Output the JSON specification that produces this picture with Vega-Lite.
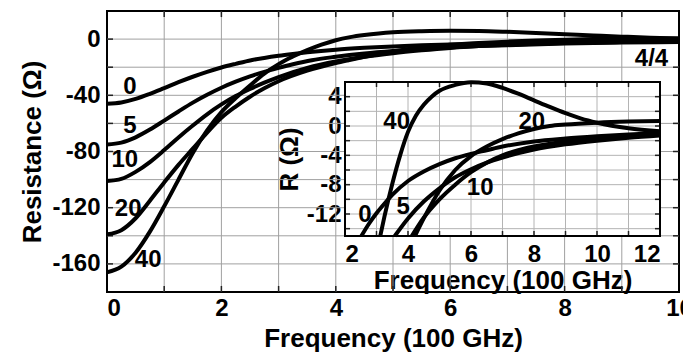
{
  "$schema": "https://vega.github.io/schema/vega-lite/v6.json",
  "width": 572,
  "height": 281,
  "autosize": "none",
  "padding": {"left": 107, "top": 11, "right": 4, "bottom": 66},
  "background": "white",
  "config": {
    "view": {"stroke": "black", "strokeWidth": 2},
    "font": "Liberation Sans",
    "axis": {
      "labelFont": "Liberation Sans", "labelFontWeight": "bold", "labelFontSize": 24, "labelColor": "black",
      "titleFont": "Liberation Sans", "titleFontWeight": "bold", "titleFontSize": 26, "titleColor": "black",
      "ticks": false, "domain": false, "labelOverlap": false, "format": "d", "grid": false
    },
    "text": {"font": "Liberation Sans", "fontWeight": "bold", "fontSize": 24, "color": "black"}
  },
  "datasets": {
    "curves": [
      {"c":"0","x":0,"y":-46},{"c":"0","x":0.25,"y":-45.1},{"c":"0","x":0.5,"y":-42.6},{"c":"0","x":0.75,"y":-39.0},{"c":"0","x":1,"y":-34.9},{"c":"0","x":1.25,"y":-30.7},{"c":"0","x":1.5,"y":-26.8},{"c":"0","x":1.75,"y":-23.3},{"c":"0","x":2,"y":-20.2},{"c":"0","x":2.25,"y":-17.6},{"c":"0","x":2.52,"y":-15.0},{"c":"0","x":2.75,"y":-13.4},{"c":"0","x":3,"y":-11.9},{"c":"0","x":3.25,"y":-10.6},{"c":"0","x":3.5,"y":-9.4},{"c":"0","x":4,"y":-7.5},{"c":"0","x":4.5,"y":-6.2},{"c":"0","x":5,"y":-5.2},{"c":"0","x":5.5,"y":-4.4},{"c":"0","x":6,"y":-3.8},{"c":"0","x":6.5,"y":-3.3},{"c":"0","x":7,"y":-2.8},{"c":"0","x":8,"y":-2.1},{"c":"0","x":9,"y":-1.7},{"c":"0","x":10,"y":-1.4},{"c":"0","x":11,"y":-1.15},{"c":"0","x":12,"y":-0.95},
      {"c":"5","x":0,"y":-75},{"c":"5","x":0.25,"y":-73.7},{"c":"5","x":0.5,"y":-69.9},{"c":"5","x":0.75,"y":-64.4},{"c":"5","x":1,"y":-58.0},{"c":"5","x":1.25,"y":-51.5},{"c":"5","x":1.5,"y":-45.2},{"c":"5","x":1.75,"y":-39.6},{"c":"5","x":2,"y":-34.6},{"c":"5","x":2.25,"y":-30.3},{"c":"5","x":2.5,"y":-26.5},{"c":"5","x":2.75,"y":-23.3},{"c":"5","x":3,"y":-20.5},{"c":"5","x":3.25,"y":-17.9},{"c":"5","x":3.58,"y":-15.0},{"c":"5","x":4,"y":-12.6},{"c":"5","x":4.5,"y":-10.3},{"c":"5","x":5,"y":-8.5},{"c":"5","x":5.5,"y":-7.0},{"c":"5","x":6,"y":-5.9},{"c":"5","x":6.5,"y":-5.0},{"c":"5","x":7,"y":-4.3},{"c":"5","x":8,"y":-3.2},{"c":"5","x":9,"y":-2.5},{"c":"5","x":10,"y":-2.0},{"c":"5","x":11,"y":-1.6},{"c":"5","x":12,"y":-1.3},
      {"c":"10","x":0,"y":-101},{"c":"10","x":0.25,"y":-99.5},{"c":"10","x":0.5,"y":-94.5},{"c":"10","x":0.75,"y":-87.5},{"c":"10","x":1,"y":-79},{"c":"10","x":1.25,"y":-70},{"c":"10","x":1.5,"y":-61.5},{"c":"10","x":1.75,"y":-53.5},{"c":"10","x":2,"y":-46.5},{"c":"10","x":2.25,"y":-40.5},{"c":"10","x":2.5,"y":-35.5},{"c":"10","x":2.75,"y":-31},{"c":"10","x":3,"y":-27},{"c":"10","x":3.5,"y":-20.5},{"c":"10","x":4,"y":-15.9},{"c":"10","x":4.12,"y":-15.0},{"c":"10","x":4.5,"y":-12.5},{"c":"10","x":5,"y":-10.0},{"c":"10","x":5.5,"y":-8.0},{"c":"10","x":6,"y":-6.3},{"c":"10","x":6.5,"y":-5.0},{"c":"10","x":7,"y":-4.0},{"c":"10","x":7.5,"y":-3.3},{"c":"10","x":8,"y":-2.8},{"c":"10","x":9,"y":-2.1},{"c":"10","x":10,"y":-1.7},{"c":"10","x":11,"y":-1.4},{"c":"10","x":12,"y":-1.2},
      {"c":"20","x":0,"y":-139},{"c":"20","x":0.25,"y":-136},{"c":"20","x":0.5,"y":-127.5},{"c":"20","x":0.75,"y":-115},{"c":"20","x":1,"y":-102},{"c":"20","x":1.25,"y":-89.5},{"c":"20","x":1.5,"y":-78},{"c":"20","x":1.75,"y":-66.5},{"c":"20","x":2,"y":-56},{"c":"20","x":2.25,"y":-48},{"c":"20","x":2.5,"y":-41},{"c":"20","x":2.75,"y":-35},{"c":"20","x":3,"y":-30},{"c":"20","x":3.5,"y":-22.5},{"c":"20","x":4,"y":-17},{"c":"20","x":4.22,"y":-15.0},{"c":"20","x":4.5,"y":-12.6},{"c":"20","x":5,"y":-8.8},{"c":"20","x":5.5,"y":-6.0},{"c":"20","x":6,"y":-4.1},{"c":"20","x":6.5,"y":-2.8},{"c":"20","x":7,"y":-1.8},{"c":"20","x":7.5,"y":-1.0},{"c":"20","x":8,"y":-0.4},{"c":"20","x":8.5,"y":0.0},{"c":"20","x":9,"y":0.2},{"c":"20","x":10,"y":0.45},{"c":"20","x":11,"y":0.6},{"c":"20","x":12,"y":0.68},
      {"c":"40","x":0,"y":-166},{"c":"40","x":0.25,"y":-162},{"c":"40","x":0.5,"y":-152},{"c":"40","x":0.75,"y":-137},{"c":"40","x":1,"y":-119},{"c":"40","x":1.25,"y":-100},{"c":"40","x":1.5,"y":-81},{"c":"40","x":1.75,"y":-65},{"c":"40","x":2,"y":-52},{"c":"40","x":2.25,"y":-42},{"c":"40","x":2.5,"y":-33},{"c":"40","x":2.75,"y":-24.5},{"c":"40","x":3,"y":-17.8},{"c":"40","x":3.12,"y":-15.0},{"c":"40","x":3.25,"y":-12.4},{"c":"40","x":3.5,"y":-7.9},{"c":"40","x":3.75,"y":-4.0},{"c":"40","x":4,"y":-0.8},{"c":"40","x":4.25,"y":1.4},{"c":"40","x":4.5,"y":2.9},{"c":"40","x":4.75,"y":4.0},{"c":"40","x":5,"y":4.8},{"c":"40","x":5.5,"y":5.6},{"c":"40","x":6,"y":5.95},{"c":"40","x":6.5,"y":5.8},{"c":"40","x":7,"y":5.2},{"c":"40","x":7.5,"y":4.4},{"c":"40","x":8,"y":3.5},{"c":"40","x":8.5,"y":2.6},{"c":"40","x":9,"y":1.75},{"c":"40","x":9.5,"y":1.0},{"c":"40","x":10,"y":0.45},{"c":"40","x":11,"y":-0.3},{"c":"40","x":12,"y":-0.7}
    ],
    "mainLabels": [
      {"t":"0","x":0.40,"y":-34},{"t":"5","x":0.40,"y":-62},{"t":"10","x":0.31,"y":-86.3},{"t":"20","x":0.37,"y":-120.7},{"t":"40","x":0.72,"y":-157.4},{"t":"4/4","x":9.52,"y":-13.9}
    ],
    "insetLabels": [
      {"t":"40","x":3.64,"y":0.58},{"t":"0","x":2.63,"y":-12.2},{"t":"5","x":3.85,"y":-11.0},{"t":"10","x":6.29,"y":-8.5},{"t":"20","x":7.93,"y":0.58}
    ],
    "mainGridV": [{"v":1},{"v":2},{"v":3},{"v":4},{"v":5},{"v":6},{"v":7},{"v":8},{"v":9}],
    "mainGridH": [{"v":-160},{"v":-140},{"v":-120},{"v":-100},{"v":-80},{"v":-60},{"v":-40},{"v":-20},{"v":0}],
    "gridV": [{"v":3},{"v":4},{"v":5},{"v":6},{"v":7},{"v":8},{"v":9},{"v":10},{"v":11}],
    "gridH": [{"v":-14},{"v":-12},{"v":-10},{"v":-8},{"v":-6},{"v":-4},{"v":-2},{"v":0},{"v":2},{"v":4}]
  },
  "layer": [
    {
      "resolve": {"scale": {"x": "shared", "y": "shared"}, "axis": {"x": "shared", "y": "shared"}},
      "layer": [
        {
          "data": {"name": "mainGridV"},
          "mark": {"type": "rule", "color": "#a0a0a0", "strokeWidth": 1},
          "encoding": {
            "x": {"field": "v", "type": "quantitative", "title": "Frequency (100 GHz)",
              "scale": {"domain": [0, 10], "nice": false, "zero": false},
              "axis": {"values": [0,2,4,6,8,10], "labelFlush": false,
                "labelAlign": {"condition": {"test": "datum.value == 0", "value": "left"}, "value": "center"},
                "labelPadding": 4, "titlePadding": 5}},
            "y": {"datum": -180, "type": "quantitative", "title": "Resistance (Ω)",
              "scale": {"domain": [-180, 20], "nice": false, "zero": false},
              "axis": {"values": [-160,-120,-80,-40,0],
                "labelExpr": "replace(datum.label, '−', '-')",
                "labelPadding": 7, "titlePadding": 6}},
            "y2": {"datum": 20}
          }
        },
        {
          "data": {"name": "mainGridH"},
          "mark": {"type": "rule", "color": "#a0a0a0", "strokeWidth": 1},
          "encoding": {
            "y": {"field": "v", "type": "quantitative", "title": "Resistance (Ω)"},
            "x": {"datum": 0, "type": "quantitative", "title": "Frequency (100 GHz)"},
            "x2": {"datum": 10}
          }
        },
        {
          "data": {"name": "mainGridH"},
          "mark": {"type": "rule", "color": "#222222", "strokeWidth": 1.5},
          "encoding": {
            "y": {"field": "v", "type": "quantitative", "title": "Resistance (Ω)"},
            "x": {"datum": 0, "type": "quantitative", "title": "Frequency (100 GHz)"},
            "x2": {"datum": 0.105}
          }
        },
        {
          "data": {"name": "mainGridH"},
          "mark": {"type": "rule", "color": "#222222", "strokeWidth": 1.5},
          "encoding": {
            "y": {"field": "v", "type": "quantitative", "title": "Resistance (Ω)"},
            "x": {"datum": 9.895, "type": "quantitative", "title": "Frequency (100 GHz)"},
            "x2": {"datum": 10}
          }
        },
        {
          "data": {"name": "mainGridV"},
          "mark": {"type": "rule", "color": "#222222", "strokeWidth": 1.5},
          "encoding": {
            "x": {"field": "v", "type": "quantitative", "title": "Frequency (100 GHz)"},
            "y": {"datum": -180, "type": "quantitative", "title": "Resistance (Ω)"},
            "y2": {"datum": -175.7}
          }
        },
        {
          "data": {"name": "mainGridV"},
          "mark": {"type": "rule", "color": "#222222", "strokeWidth": 1.5},
          "encoding": {
            "x": {"field": "v", "type": "quantitative", "title": "Frequency (100 GHz)"},
            "y": {"datum": 15.7, "type": "quantitative", "title": "Resistance (Ω)"},
            "y2": {"datum": 20}
          }
        },
        {
          "data": {"name": "curves"},
          "mark": {"type": "line", "clip": true, "interpolate": "monotone", "strokeWidth": 4, "color": "black"},
          "encoding": {
            "x": {"field": "x", "type": "quantitative", "title": "Frequency (100 GHz)"},
            "y": {"field": "y", "type": "quantitative", "title": "Resistance (Ω)"},
            "detail": {"field": "c"}
          }
        },
        {
          "data": {"name": "mainLabels"},
          "mark": {"type": "text", "align": "center", "baseline": "middle"},
          "encoding": {
            "x": {"field": "x", "type": "quantitative", "title": "Frequency (100 GHz)"},
            "y": {"field": "y", "type": "quantitative", "title": "Resistance (Ω)"},
            "text": {"field": "t"}
          }
        }
      ]
    },
    {
      "resolve": {"scale": {"x": "shared", "y": "shared"}, "axis": {"x": "shared", "y": "shared"}},
      "layer": [
        {
          "data": {"values": [{}]},
          "mark": {"type": "rect", "fill": "white"},
          "encoding": {
            "x": {"datum": 2, "type": "quantitative", "title": "Frequency (100 GHz)",
              "scale": {"domain": [2, 12], "range": [238, 553], "nice": false, "zero": false},
              "axis": {"orient": "bottom", "offset": -56, "values": [2,4,6,8,10,12],
                "labelPadding": 6, "titlePadding": 1}},
            "x2": {"datum": 12},
            "y": {"datum": -15, "type": "quantitative", "title": "R (Ω)",
              "scale": {"domain": [-15, 6], "range": [225, 71], "nice": false, "zero": false},
              "axis": {"orient": "left", "offset": -238, "values": [-12,-8,-4,0,4],
                "labelExpr": "replace(datum.label, '−', '-')", "labelPadding": 4, "titlePadding": 4}},
            "y2": {"datum": 6}
          }
        },
        {
          "data": {"name": "gridV"},
          "mark": {"type": "rule", "color": "#b4b4b4", "strokeWidth": 1},
          "encoding": {
            "x": {"field": "v", "type": "quantitative", "title": "Frequency (100 GHz)"},
            "y": {"datum": -15, "type": "quantitative", "title": "R (Ω)"},
            "y2": {"datum": 6}
          }
        },
        {
          "data": {"name": "gridH"},
          "mark": {"type": "rule", "color": "#b4b4b4", "strokeWidth": 1},
          "encoding": {
            "y": {"field": "v", "type": "quantitative", "title": "R (Ω)"},
            "x": {"datum": 2, "type": "quantitative", "title": "Frequency (100 GHz)"},
            "x2": {"datum": 12}
          }
        },
        {
          "data": {"name": "gridH"},
          "mark": {"type": "rule", "color": "#222222", "strokeWidth": 1.5},
          "encoding": {
            "y": {"field": "v", "type": "quantitative", "title": "R (Ω)"},
            "x": {"datum": 2, "type": "quantitative", "title": "Frequency (100 GHz)"},
            "x2": {"datum": 2.16}
          }
        },
        {
          "data": {"name": "gridH"},
          "mark": {"type": "rule", "color": "#222222", "strokeWidth": 1.5},
          "encoding": {
            "y": {"field": "v", "type": "quantitative", "title": "R (Ω)"},
            "x": {"datum": 11.84, "type": "quantitative", "title": "Frequency (100 GHz)"},
            "x2": {"datum": 12}
          }
        },
        {
          "data": {"name": "gridV"},
          "mark": {"type": "rule", "color": "#222222", "strokeWidth": 1.5},
          "encoding": {
            "x": {"field": "v", "type": "quantitative", "title": "Frequency (100 GHz)"},
            "y": {"datum": -15, "type": "quantitative", "title": "R (Ω)"},
            "y2": {"datum": -14.32}
          }
        },
        {
          "data": {"name": "gridV"},
          "mark": {"type": "rule", "color": "#222222", "strokeWidth": 1.5},
          "encoding": {
            "x": {"field": "v", "type": "quantitative", "title": "Frequency (100 GHz)"},
            "y": {"datum": 5.32, "type": "quantitative", "title": "R (Ω)"},
            "y2": {"datum": 6}
          }
        },
        {
          "data": {"name": "curves"},
          "transform": [{"filter": "datum.x >= 2 && datum.y >= -15"}],
          "mark": {"type": "line", "interpolate": "monotone", "strokeWidth": 4, "color": "black"},
          "encoding": {
            "x": {"field": "x", "type": "quantitative", "title": "Frequency (100 GHz)"},
            "y": {"field": "y", "type": "quantitative", "title": "R (Ω)"},
            "detail": {"field": "c"}
          }
        },
        {
          "data": {"name": "insetLabels"},
          "mark": {"type": "text", "align": "center", "baseline": "middle"},
          "encoding": {
            "x": {"field": "x", "type": "quantitative", "title": "Frequency (100 GHz)"},
            "y": {"field": "y", "type": "quantitative", "title": "R (Ω)"},
            "text": {"field": "t"}
          }
        },
        {
          "data": {"values": [{}]},
          "mark": {"type": "rect", "fill": null, "stroke": "black", "strokeWidth": 2},
          "encoding": {
            "x": {"datum": 2, "type": "quantitative", "title": "Frequency (100 GHz)"},
            "x2": {"datum": 12},
            "y": {"datum": -15, "type": "quantitative", "title": "R (Ω)"},
            "y2": {"datum": 6}
          }
        }
      ]
    }
  ],
  "resolve": {"scale": {"x": "independent", "y": "independent"}, "axis": {"x": "independent", "y": "independent"}}
}
